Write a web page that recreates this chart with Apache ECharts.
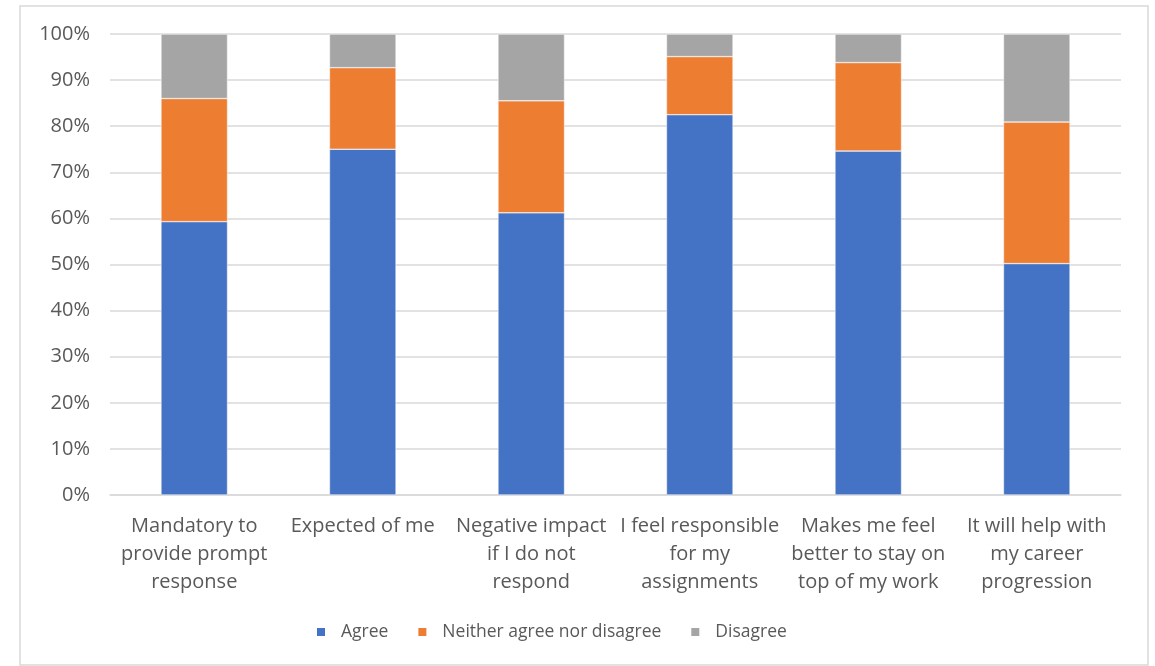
<!DOCTYPE html>
<html>
<head>
<meta charset="utf-8">
<script src="https://cdn.jsdelivr.net/npm/echarts@6/dist/echarts.min.js"></script>
<style>
  html, body { margin: 0; padding: 0; background: #fff; }
  #main { width: 1155px; height: 666px; }
</style>
</head>
<body>
<div id="main"></div>
<script>
// statements (x axis)
var categories = [
  'Mandatory to\nprovide prompt\nresponse',
  'Expected of me',
  'Negative impact\nif I do not\nrespond',
  'I feel responsible\nfor my\nassignments',
  'Makes me feel\nbetter to stay on\ntop of my work',
  'It will help with\nmy career\nprogression'
];
// percentages
var agree    = [59.3, 75.0, 61.2, 82.5, 74.6, 50.2];
var neither  = [26.7, 17.7, 24.3, 12.6, 19.2, 30.7];
var disagree = [14.0, 7.3, 14.5, 4.9, 6.2, 19.1];

var txt = '#595959';
var font = 'Open Sans';

var chart = echarts.init(document.getElementById('main'));

function bar(name, data) {
  return {
    name: name,
    type: 'bar',
    stack: 'total',
    barWidth: '39.5%',
    data: data,
    itemStyle: { borderColor: '#fff', borderWidth: 0.5 }
  };
}

var option = {
  animation: false,
  backgroundColor: '#fff',
  color: ['#4472C4', '#ED7D31', '#A5A5A5'],
  graphic: [{
    type: 'rect',
    shape: { x: 20, y: 6, width: 1128, height: 659 },
    style: { fill: 'none', stroke: '#D9D9D9', lineWidth: 1.5 },
    silent: true
  }],
  grid: { left: 110, right: 34, top: 34, bottom: 171 },
  legend: {
    bottom: 20,
    left: 310,
    itemWidth: 10,
    itemHeight: 10,
    itemGap: 28,
    icon: 'rect',
    textStyle: { color: txt, fontSize: 17.5, fontFamily: font, padding: [0, 0, 0, 10] },
    data: ['Agree', 'Neither agree nor disagree', 'Disagree']
  },
  xAxis: {
    type: 'category',
    data: categories,
    axisLine: { show: true, lineStyle: { color: '#D9D9D9', width: 1.5 } },
    axisTick: { show: false },
    axisLabel: {
      interval: 0,
      color: txt,
      fontSize: 20,
      fontFamily: font,
      lineHeight: 28,
      margin: 17
    }
  },
  yAxis: {
    type: 'value',
    min: 0,
    max: 100,
    interval: 10,
    axisLine: { show: false },
    axisTick: { show: false },
    splitLine: { lineStyle: { color: '#D9D9D9', width: 1.5 } },
    axisLabel: {
      color: txt,
      fontSize: 20,
      fontFamily: font,
      margin: 20,
      formatter: '{value}%'
    }
  },
  series: [
    bar('Agree', agree),
    bar('Neither agree nor disagree', neither),
    bar('Disagree', disagree)
  ]
};

chart.setOption(option);
</script>
</body>
</html>
